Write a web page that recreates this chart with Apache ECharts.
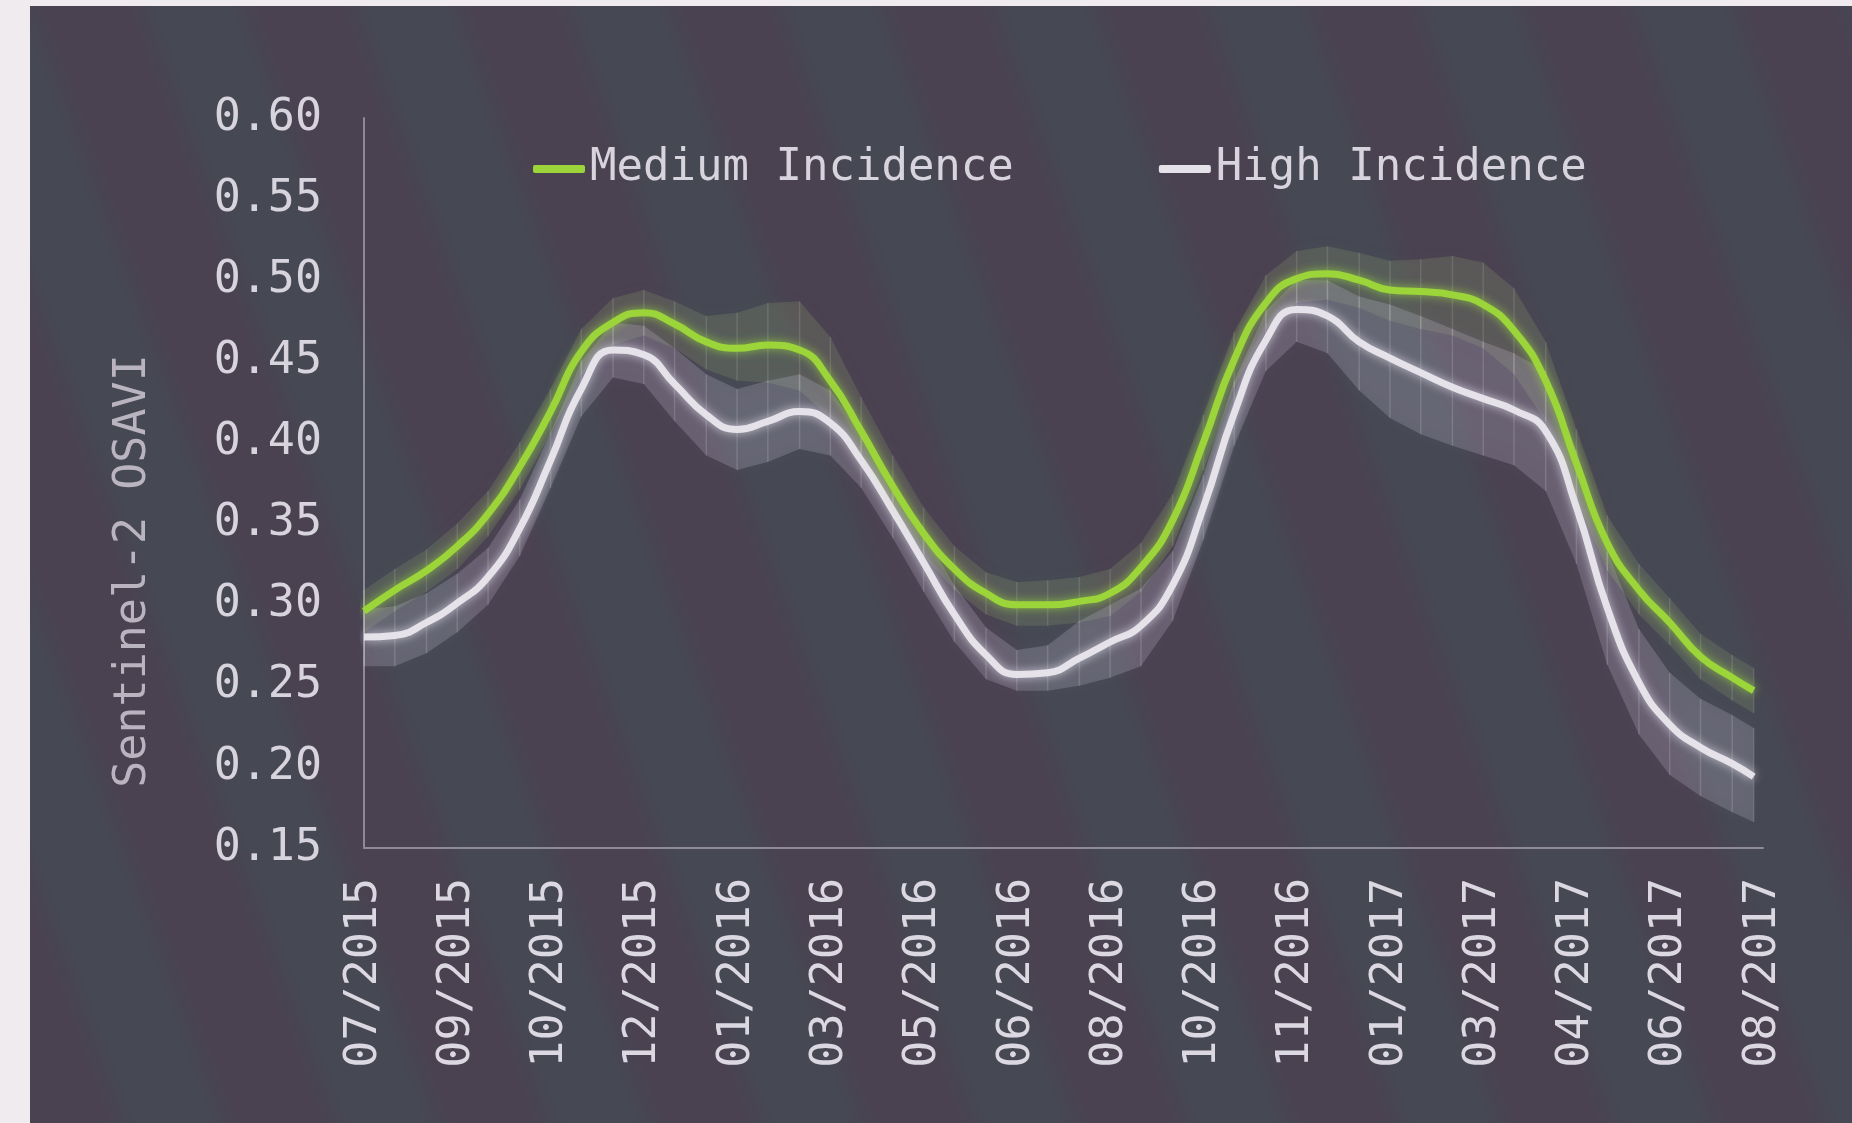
<!DOCTYPE html>
<html><head><meta charset="utf-8">
<script src="https://cdn.jsdelivr.net/npm/echarts@6/dist/echarts.min.js"></script>
<style>
html,body{margin:0;padding:0;width:1852px;height:1123px;overflow:hidden;background:#efebee;}
#panel{position:absolute;left:30px;top:6px;right:0;bottom:0;
background:repeating-linear-gradient(70deg,#4a4151 0px,#4a4151 70px,#464853 100px,#464853 170px,#4a4151 200px);}
#chart{position:absolute;left:0;top:0;width:1852px;height:1123px;}
</style></head>
<body><div id="panel"></div><div id="chart"></div>
<script>
const tickLabels = ['07/2015','09/2015','10/2015','12/2015','01/2016','03/2016','05/2016','06/2016',
  '08/2016','10/2016','11/2016','01/2017','03/2017','04/2017','06/2017','08/2017'];
const seriesNames = ['Medium Incidence','High Incidence'];
// x positions in tick-label units
const xs = [0,0.33,0.67,1,1.33,1.67,2,2.33,2.67,3,3.33,3.67,4,4.33,4.67,5,5.33,5.67,6,6.33,6.67,
  7,7.33,7.67,8,8.33,8.67,9,9.33,9.67,10,10.33,10.67,11,11.33,11.67,12,12.33,12.67,13,13.33,13.67,
  14,14.33,14.67,14.9];
const medium = [0.296,0.309,0.321,0.336,0.356,0.385,0.419,0.456,0.474,0.480,0.473,0.462,0.458,0.460,0.457,
  0.438,0.407,0.373,0.344,0.322,0.307,0.300,0.300,0.302,0.307,0.323,0.352,0.400,0.451,0.486,0.501,0.504,
  0.500,0.494,0.493,0.491,0.485,0.469,0.438,0.387,0.338,0.309,0.289,0.268,0.255,0.247];
const high = [0.280,0.281,0.289,0.301,0.317,0.347,0.389,0.433,0.457,0.454,0.436,0.417,0.408,0.413,0.419,
  0.412,0.389,0.358,0.326,0.294,0.269,0.257,0.258,0.267,0.277,0.287,0.312,0.360,0.418,0.463,0.482,0.478,
  0.462,0.452,0.443,0.434,0.427,0.420,0.407,0.360,0.298,0.252,0.226,0.212,0.202,0.194];
const mediumLow = [0.283,0.296,0.308,0.322,0.342,0.371,0.405,0.442,0.460,0.466,0.458,0.445,0.438,0.437,0.432,
  0.415,0.388,0.356,0.330,0.309,0.294,0.287,0.287,0.289,0.293,0.308,0.336,0.383,0.434,0.470,0.486,0.488,
  0.483,0.475,0.470,0.466,0.458,0.442,0.413,0.366,0.321,0.294,0.275,0.254,0.241,0.233];
const mediumHigh = [0.309,0.322,0.334,0.350,0.370,0.400,0.433,0.470,0.489,0.494,0.487,0.478,0.480,0.486,0.487,
  0.465,0.428,0.392,0.360,0.336,0.320,0.314,0.315,0.317,0.322,0.338,0.368,0.417,0.468,0.503,0.518,0.521,
  0.517,0.512,0.513,0.515,0.511,0.495,0.462,0.408,0.355,0.325,0.304,0.282,0.269,0.261];
const highLow = [0.262,0.262,0.270,0.283,0.300,0.330,0.372,0.416,0.440,0.436,0.413,0.392,0.383,0.388,0.396,
  0.392,0.372,0.341,0.308,0.277,0.254,0.247,0.247,0.250,0.255,0.262,0.290,0.340,0.398,0.444,0.462,0.455,
  0.432,0.415,0.405,0.398,0.392,0.386,0.370,0.325,0.263,0.220,0.195,0.182,0.172,0.166];
const highHigh = [0.297,0.299,0.307,0.319,0.335,0.365,0.406,0.450,0.474,0.472,0.458,0.442,0.433,0.438,0.442,
  0.432,0.406,0.375,0.344,0.312,0.286,0.272,0.275,0.290,0.300,0.310,0.333,0.380,0.438,0.481,0.500,0.500,
  0.490,0.485,0.478,0.470,0.462,0.455,0.444,0.395,0.333,0.285,0.258,0.242,0.232,0.224];

const GREEN = '#9bd53a', WHITE = '#e6e2ea', FONT = 'DejaVu Sans Mono';

function bandSeries(name, lo, hi, fill, hatch) {
  return {
    type: 'custom', name: name, silent: true, z: 1, data: [[0, lo[0]]],
    renderItem: function (params, api) {
      const top = xs.map((x, i) => api.coord([x, hi[i]]));
      const bot = xs.map((x, i) => api.coord([x, lo[i]])).reverse();
      const children = [{
        type: 'polygon', shape: { points: top.concat(bot) },
        style: { fill: fill, shadowBlur: 16, shadowColor: fill }
      }];
      xs.forEach((x, i) => {
        const a = api.coord([x, lo[i]]), b = api.coord([x, hi[i]]);
        children.push({ type: 'line', shape: { x1: a[0], y1: a[1], x2: b[0], y2: b[1] },
          style: { stroke: hatch, lineWidth: 1.5 } });
      });
      return { type: 'group', children: children };
    }
  };
}
function pairs(arr) { return xs.map((x, i) => [x, arr[i]]); }

const chart = echarts.init(document.getElementById('chart'), null, { renderer: 'canvas' });
chart.setOption({
  backgroundColor: 'transparent',
  animation: false,
  textStyle: { fontFamily: FONT },
  grid: { left: 364, right: 89, top: 118, bottom: 275, containLabel: false, outerBoundsMode: 'none' },
  legend: {
    data: seriesNames, left: 528, top: 142, icon: 'roundRect', itemWidth: 52, itemHeight: 8, itemGap: 145,
    textStyle: { color: '#d8d4de', fontSize: 44, fontFamily: FONT }
  },
  xAxis: {
    type: 'value', min: 0, max: 15, interval: 1,
    axisLine: { show: true, lineStyle: { color: '#8e8a96', width: 2 } },
    axisTick: { show: false }, splitLine: { show: false },
    axisLabel: { rotate: 90, margin: 30, color: '#dcd8e2', fontSize: 45, fontFamily: FONT,
      formatter: v => tickLabels[Math.round(v)] || '' }
  },
  yAxis: {
    type: 'value', min: 0.15, max: 0.60, interval: 0.05,
    name: 'Sentinel-2 OSAVI', nameLocation: 'middle', nameGap: 208,
    nameTextStyle: { color: '#b9b4c0', fontSize: 45, fontFamily: FONT, padding: [0, 176, 0, 0] },
    axisLine: { show: true, lineStyle: { color: '#8e8a96', width: 2 } },
    axisTick: { show: false }, splitLine: { show: false },
    axisLabel: { margin: 42, color: '#d8d4de', fontSize: 45, fontFamily: FONT, formatter: v => v.toFixed(2) }
  },
  series: [
    bandSeries('mediumBand', mediumLow, mediumHigh, 'rgba(150,170,115,0.2)', 'rgba(230,235,220,0.14)'),
    bandSeries('highBand', highLow, highHigh, 'rgba(215,210,228,0.2)', 'rgba(240,238,245,0.16)'),
    { name: seriesNames[1], type: 'line', data: pairs(high), smooth: true, showSymbol: false, z: 3,
      color: WHITE, lineStyle: { color: WHITE, width: 7, shadowBlur: 10, shadowColor: 'rgba(240,236,248,0.7)' } },
    { name: seriesNames[0], type: 'line', data: pairs(medium), smooth: true, showSymbol: false, z: 4,
      color: GREEN, lineStyle: { color: GREEN, width: 7, shadowBlur: 10, shadowColor: 'rgba(160,230,60,0.7)' } }
  ]
});
</script>
</body></html>
